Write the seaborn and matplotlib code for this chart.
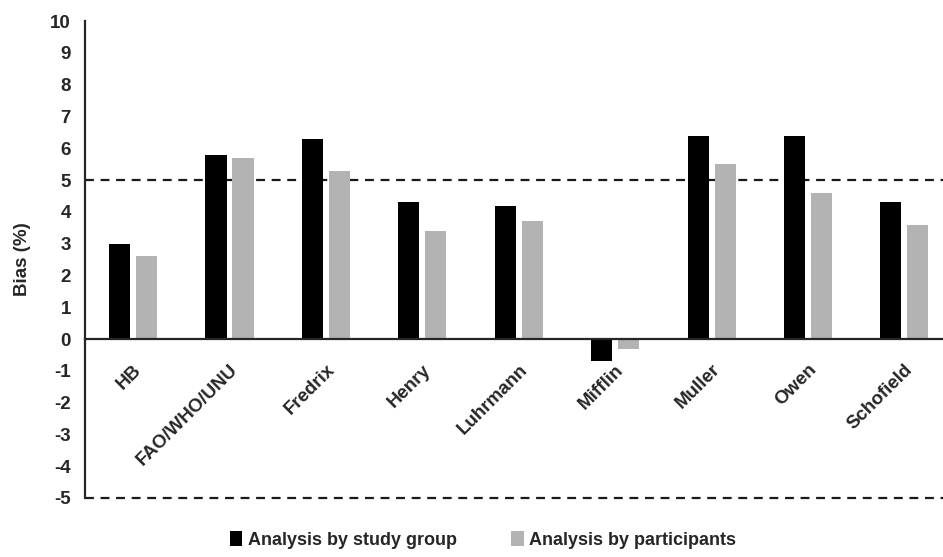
import numpy as np
import pandas as pd
import matplotlib
matplotlib.use('Agg')
import matplotlib.pyplot as plt
from matplotlib.patches import Patch
import seaborn as sns

# data
equations = ['HB', 'FAO/WHO/UNU', 'Fredrix', 'Henry', 'Luhrmann',
             'Mifflin', 'Muller', 'Owen', 'Schofield']
by_group = [3.0, 5.8, 6.3, 4.3, 4.2, -0.7, 6.4, 6.4, 4.3]
by_participants = [2.6, 5.7, 5.3, 3.4, 3.7, -0.3, 5.5, 4.6, 3.6]
series_names = ['Analysis by study group', 'Analysis by participants']
yticks = list(range(-5, 11))

sns.set_style('white')
plt.rcParams['font.family'] = ['Liberation Sans', 'DejaVu Sans']

df = pd.DataFrame({
    'Equation': equations * 2,
    'Bias': by_group + by_participants,
    'Series': [series_names[0]] * len(equations) + [series_names[1]] * len(equations),
})
colors = ['#000000', '#b3b3b3']

fig = plt.figure(figsize=(9.43, 5.57), dpi=100)
ax = fig.add_axes([0.090, 0.106, 0.910, 0.856])

sns.barplot(data=df, x='Equation', y='Bias', hue='Series', palette=colors,
            width=0.56, gap=0.22, ax=ax, legend=False, edgecolor='none')

# reference lines at +/-5 %
ax.axhline(5, color='#1a1a1a', lw=1.6, ls=(0, (4, 3)), zorder=0)
ax.axhline(-5, color='#1a1a1a', lw=1.6, ls=(0, (4, 3)), zorder=0, clip_on=False)

ax.set_ylim(-5, 10)
ax.set_xlim(-0.5, 8.4)
ax.set_yticks(yticks)
ax.set_yticklabels([str(t) for t in yticks], fontsize=13.5, fontweight='bold')
ax.set_ylabel('Bias (%)', fontsize=13.5, fontweight='bold', labelpad=14)
ax.set_xlabel('')

# category axis sits at zero
ax.spines['bottom'].set_position(('data', 0))
ax.spines['bottom'].set_linewidth(1.6)
ax.spines['left'].set_linewidth(1.6)
ax.spines['top'].set_visible(False)
ax.spines['right'].set_visible(False)
ax.tick_params(axis='both', length=0)
ax.tick_params(axis='x', pad=16)
ax.tick_params(axis='y', pad=10)
ax.set_xticks(range(len(equations)))
ax.set_xticklabels(equations, rotation=45, ha='right', va='top',
                   rotation_mode='anchor', fontsize=13.5, fontweight='bold')

handles = [Patch(facecolor=c, edgecolor='none') for c in colors]
fig.legend(handles, series_names, loc='center', bbox_to_anchor=(0.512, 0.03),
           ncol=2, frameon=False, handlelength=0.7, handleheight=0.9,
           handletextpad=0.3, columnspacing=3.0,
           prop={'size': 13, 'weight': 'bold'})

fig.savefig('out.png', dpi=100)
